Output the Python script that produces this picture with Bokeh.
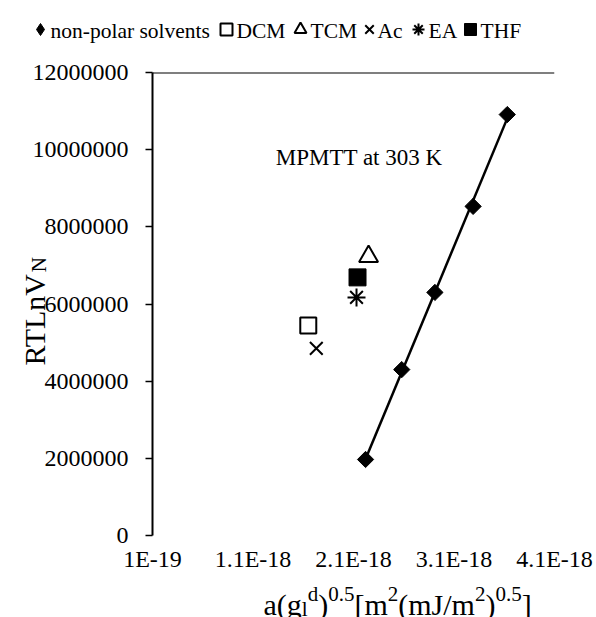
import numpy as np
from bokeh.plotting import figure
from bokeh.layouts import column
from bokeh.models import (Range1d, FixedTicker, Label, Legend, LegendItem, Span, GridBox,
                          CustomJSTickFormatter, NumeralTickFormatter)
from bokeh.embed import file_html
from bokeh.resources import INLINE

# ---------------- data ----------------
np_x = [2.22e-18, 2.58e-18, 2.91e-18, 3.29e-18, 3.63e-18]
np_y = [1.97e6, 4.30e6, 6.30e6, 8.53e6, 10.91e6]

dcm_x, dcm_y = [1.65e-18], [5.44e6]
tcm_x, tcm_y = [2.25e-18], [7.23e6]
ac_x, ac_y = [1.73e-18], [4.85e6]
ea_x, ea_y = [2.13e-18], [6.17e6]
thf_x, thf_y = [2.14e-18], [6.69e6]

legend_labels = ["non-polar solvents", "DCM", "TCM", "Ac", "EA", "THF"]
x_ticks = [1e-19, 1.1e-18, 2.1e-18, 3.1e-18, 4.1e-18]
x_tick_labels = ["1E-19", "1.1E-18", "2.1E-18", "3.1E-18", "4.1E-18"]
y_ticks = [0, 2000000, 4000000, 6000000, 8000000, 10000000, 12000000]

FONT = "Liberation Serif, DejaVu Serif, serif"
WIDTH, HEIGHT = 596, 617

# ---------------- main plot ----------------
p = figure(width=WIDTH, height=HEIGHT, output_backend="svg", toolbar_location=None,
           x_range=Range1d(1e-19, 4.1e-18), y_range=Range1d(0, 12000000),
           min_border_left=152, min_border_right=42, min_border_top=72,
           min_border_bottom=82)
p.grid.visible = False
p.outline_line_color = None
p.background_fill_color = "white"
p.border_fill_color = "white"

ya = p.yaxis[0]
ya.ticker = FixedTicker(ticks=y_ticks)
ya.formatter = NumeralTickFormatter(format="0")
ya.axis_line_width = 2
ya.axis_line_color = "black"
ya.major_tick_line_width = 1.5
ya.major_tick_line_color = "black"
ya.major_tick_out = 7
ya.major_tick_in = 0
ya.minor_tick_line_color = None
ya.major_label_standoff = 17
ya.major_label_text_font = FONT
ya.major_label_text_font_size = "24px"
ya.major_label_text_color = "black"

xa = p.xaxis[0]
xa.ticker = FixedTicker(ticks=x_ticks)
xa.formatter = CustomJSTickFormatter(args=dict(tvals=x_ticks, tlabels=x_tick_labels), code="""
let best = 0, bd = Infinity;
for (let i = 0; i < tvals.length; i++) {
  const d = Math.abs(tvals[i] - tick);
  if (d < bd) { bd = d; best = i; }
}
return tlabels[best];
""")
xa.axis_line_color = None
xa.major_tick_line_color = None
xa.minor_tick_line_color = None
xa.major_tick_out = 0
xa.major_tick_in = 0
xa.major_label_standoff = 10
xa.major_label_text_font = FONT
xa.major_label_text_font_size = "24px"
xa.major_label_text_color = "black"

p.add_layout(Span(location=12000000, dimension="width", line_color="black", line_width=2))

coef = np.polyfit(np_x, np_y, 1)
tx = [min(np_x), max(np_x)]
ty = [coef[0] * v + coef[1] for v in tx]
p.line(tx, ty, line_color="black", line_width=2.5)

p.scatter(np_x, np_y, marker="square", angle=np.pi / 4, size=11.5,
          fill_color="black", line_color="black")
STY = {
    "dcm": dict(marker="square", size=16, fill_color="white", line_color="black", line_width=2),
    "tcm": dict(marker="triangle", size=19, fill_color="white", line_color="black", line_width=2),
    "ac": dict(marker="x", size=18, line_color="black", line_width=2),
    "ea": dict(marker="asterisk", size=18, line_color="black", line_width=2),
    "thf": dict(marker="square", size=17, fill_color="black", line_color="black"),
}
SERIES = {"dcm": (dcm_x, dcm_y), "tcm": (tcm_x, tcm_y), "ac": (ac_x, ac_y),
          "ea": (ea_x, ea_y), "thf": (thf_x, thf_y)}
for k, (xs, ys) in SERIES.items():
    p.scatter(xs, ys, **STY[k])

p.add_layout(Label(x=290, y=378, x_units="screen", y_units="screen",
                   text="MPMTT at 303 K", text_align="right", text_baseline="middle",
                   text_font=FONT, text_font_size="23px", text_color="black"))

# ---------------- transparent overlay for legend and axis titles ----------------
ov = figure(width=WIDTH, height=HEIGHT, output_backend="svg", toolbar_location=None,
            x_axis_location=None, y_axis_location=None, min_border=0,
            x_range=Range1d(1e-19, 4.1e-18), y_range=Range1d(0, 12000000))
ov.grid.visible = False
ov.outline_line_color = None
ov.background_fill_alpha = 0
ov.border_fill_alpha = 0

leg_r = [ov.scatter(np_x, np_y, marker="diamond", size=16, fill_color="black",
                    line_color="black", visible=False)]
for k, (xs, ys) in SERIES.items():
    leg_r.append(ov.scatter(xs, ys, visible=False, **STY[k]))

# legend swatches (Bokeh legends) with their names as text labels beside them
LEG_MARK_X = [40, 226, 300, 369, 418, 470]
LEG_TEXT_X = [50, 236, 310, 377, 428, 480]
for mx, tx_, lab, r in zip(LEG_MARK_X, LEG_TEXT_X, legend_labels, leg_r):
    ov.add_layout(Legend(items=[LegendItem(label=" ", renderers=[r])],
                         orientation="horizontal", location=(mx - 15, HEIGHT - 44),
                         glyph_width=30, glyph_height=30, label_standoff=0, spacing=0,
                         label_width=0, padding=0, margin=0, border_line_color=None,
                         background_fill_alpha=0, label_text_font=FONT,
                         label_text_font_size="4px", label_text_color="black"))
    ov.add_layout(Label(x=tx_, y=HEIGHT - 30, x_units="screen", y_units="screen",
                        text=lab, text_align="left", text_baseline="alphabetic",
                        text_font=FONT, text_font_size="21.5px", text_color="black"))

W = {"a": 444, "(": 333, ")": 333, "g": 500, "l": 278, "d": 500, "0": 500, ".": 250,
     "5": 500, "[": 333, "]": 333, "m": 778, "2": 500, "J": 389, "/": 278, "R": 667,
     "T": 611, "L": 611, "n": 500, "V": 722, "N": 722}
SHIFT = {"n": 0.0, "sup": 0.36, "sub": -0.16}


def rich(fig, segs, x0, y0, size, vertical=False):
    pos = 0.0
    for txt, kind in segs:
        fs = size * (1.0 if kind == "n" else 0.7)
        sh = SHIFT[kind] * size
        if vertical:
            lx, ly, ang = x0 - sh, y0 + pos, np.pi / 2
        else:
            lx, ly, ang = x0 + pos, y0 + sh, 0
        fig.add_layout(Label(x=lx, y=ly, x_units="screen", y_units="screen", text=txt,
                             angle=ang, text_align="left", text_baseline="alphabetic",
                             text_font=FONT, text_font_size=f"{fs:.1f}px",
                             text_color="black"))
        pos += sum(W[c] for c in txt) / 1000 * fs


x_title = [("a(g", "n"), ("l", "sub"), ("d", "sup"), (")", "n"), ("0.5", "sup"),
           ("[m", "n"), ("2", "sup"), ("(mJ/m", "n"), ("2", "sup"), (")", "n"),
           ("0.5", "sup"), ("]", "n")]
y_title = [("RTLnV", "n"), ("N", "sub")]
rich(ov, x_title, 263, HEIGHT - 604, 30)
rich(ov, y_title, 34, HEIGHT - 365, 30, vertical=True)

if "frame_align" in p.properties():
    p.frame_align = False
    ov.frame_align = False
    layout = GridBox(children=[(p, 0, 0), (ov, 0, 0)])
else:
    ov.styles = {"position": "absolute", "left": "0px", "top": "0px"}
    layout = column(p, ov, styles={"position": "relative"})
open("out.html", "w").write(file_html(layout, INLINE))
